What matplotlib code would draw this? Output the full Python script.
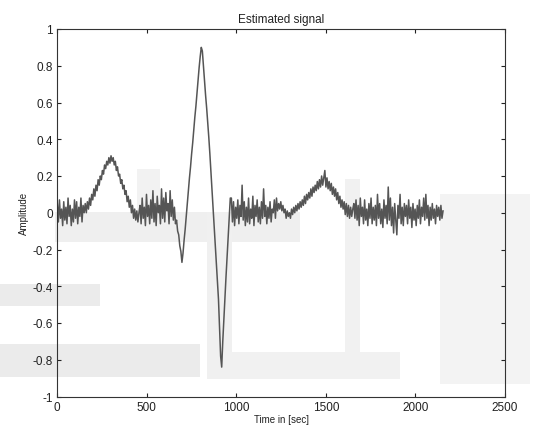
import numpy as np
import matplotlib
matplotlib.use("Agg")
import matplotlib.pyplot as plt
from matplotlib.patches import Rectangle

# ---- data (sample step of 6 time units) ----
step = 6
seg_a = [0.05, -0.05, 0.07, -0.03, 0.02, -0.07, 0.06, -0.04, 0.03, -0.06, 0.08, -0.02, 0.04,
         -0.07, 0.02, -0.05, 0.07, -0.03, 0.06, -0.06, 0.03, -0.02, 0.08, -0.05, 0.04, 0.0]
seg_b = [0.05, 0.0, 0.06, 0.02, 0.08, 0.04, 0.10, 0.07, 0.13, 0.09, 0.15, 0.12, 0.18, 0.15,
         0.20, 0.18, 0.23, 0.21, 0.26, 0.24, 0.28, 0.26, 0.30, 0.27, 0.31, 0.28]
seg_c = [0.30, 0.26, 0.28, 0.23, 0.25, 0.20, 0.21, 0.16, 0.18, 0.13, 0.15, 0.10, 0.12, 0.06,
         0.09, 0.03, 0.07, 0.0, 0.04, -0.03, 0.02, -0.04, 0.01, -0.05, 0.0]
seg_d = [0.04, -0.06, 0.08, -0.03, 0.03, -0.07, 0.10, -0.02, 0.04, -0.06, 0.07, -0.03, 0.12,
         -0.05, 0.05, -0.07, 0.09, 0.0, 0.04, -0.06, 0.13, -0.03, 0.08, -0.05, 0.11, 0.01, 0.05,
         -0.06, 0.12, -0.02, 0.07, -0.04, 0.03, -0.06]
seg_e = [-0.04, -0.10, -0.12, -0.18, -0.21, -0.27]
seg_f = [-0.22, -0.15, -0.09, -0.02, 0.05, 0.12, 0.19, 0.25, 0.32, 0.38, 0.45, 0.52, 0.58,
         0.65, 0.72, 0.79, 0.85, 0.90]
seg_g = [0.88, 0.80, 0.72, 0.64, 0.57, 0.49, 0.41, 0.32, 0.22, 0.12, 0.03, -0.07, -0.17,
         -0.27, -0.37, -0.47, -0.62, -0.78]
seg_h = [-0.84, -0.70, -0.58, -0.46, -0.35, -0.24, -0.12, -0.02, 0.08]
seg_i = [0.08, -0.05, 0.06, -0.07, 0.03, -0.03, 0.07, -0.06, 0.04, -0.02, 0.15, -0.04, 0.06,
         -0.07, 0.03, -0.05, 0.08, -0.06, 0.02, -0.03, 0.09, -0.07, 0.04, -0.02, 0.07, -0.05,
         0.03, -0.06, 0.06, -0.03, 0.13, -0.02, 0.04, -0.06, 0.03, -0.03, 0.06, -0.05, 0.02,
         0.0, 0.07, -0.03, 0.08, 0.01, 0.05]
seg_j = [0.02, 0.06, 0.01, 0.04, 0.0, 0.02, -0.03, 0.01, -0.02, 0.0, -0.03]
seg_k = [0.02, -0.01, 0.03, 0.0, 0.04, 0.01, 0.05, 0.02, 0.06, 0.03, 0.07, 0.04, 0.09, 0.05,
         0.10, 0.07, 0.11, 0.08, 0.13, 0.09, 0.14, 0.11, 0.15, 0.12, 0.17, 0.13, 0.18, 0.14,
         0.20, 0.15, 0.19]
seg_l = [0.23, 0.14, 0.19, 0.13, 0.17, 0.12, 0.16, 0.10, 0.14, 0.09, 0.13, 0.07, 0.11, 0.05,
         0.09, 0.03, 0.07, 0.02, 0.06, -0.01, 0.05, -0.02, 0.04, -0.03, 0.03, -0.02, 0.02]
seg_m = [0.05, -0.03, 0.07, -0.04, 0.04, -0.07, 0.08, -0.02, 0.03, -0.06,
         0.07, -0.04, 0.02, -0.07, 0.05, -0.03, 0.08, -0.06, 0.03, -0.04,
         0.04, -0.07, 0.10, -0.03, 0.05, -0.06, 0.02, -0.08, 0.07, -0.03,
         0.04, -0.06, 0.14, -0.04, 0.08, -0.07, 0.03, -0.11, 0.05, -0.04,
         -0.12, 0.04, -0.03, 0.10, -0.06, 0.03, -0.07, 0.05, -0.02, 0.04,
         -0.06, 0.07, -0.03, 0.03, -0.08, 0.05, -0.04, 0.02, -0.07, 0.04,
         -0.03, 0.07, -0.06, 0.03, -0.02, 0.08, -0.04, 0.10, -0.03, 0.04,
         -0.07, 0.03, -0.04, 0.05, -0.03, 0.02, -0.06, 0.04, -0.02, 0.03,
         -0.04, 0.04, -0.03, 0.01]

x_ticks = [0, 500, 1000, 1500, 2000, 2500]
y_ticks = [-1, -0.8, -0.6, -0.4, -0.2, 0, 0.2, 0.4, 0.6, 0.8, 1]
y_tick_labels = ["-1", "-0.8", "-0.6", "-0.4", "-0.2", "0", "0.2", "0.4", "0.6", "0.8", "1"]

signal = np.array(seg_a + seg_b + seg_c + seg_d + seg_e + seg_f + seg_g + seg_h +
                  seg_i + seg_j + seg_k + seg_l + seg_m)
t = np.arange(len(signal)) * step

# ---- figure ----
W, H = 547, 435
plt.rcParams['font.family'] = ['Liberation Sans', 'DejaVu Sans']
fig = plt.figure(figsize=(W / 100, H / 100), dpi=100)
fig.patch.set_facecolor('white')

ax = fig.add_axes([57.3 / W, 1 - 397.5 / H, (505 - 57.3) / W, (397.5 - 30) / H])
ax.set_facecolor('none')
ax.set_zorder(2)

# faint background watermark (pixel boxes: x0, y_top, w, h, grey)
wm = [(55, 213, 245, 30, '#efefef'), (0, 285, 100, 22, '#ebebeb'), (0, 345, 200, 33, '#ebebeb'),
      (207, 213, 25, 167, '#f0f0f0'), (230, 353, 170, 27, '#f1f1f1'), (345, 180, 15, 173, '#f1f1f1'),
      (440, 195, 90, 190, '#f3f3f3'), (137, 170, 23, 45, '#f2f2f2')]
for x0, yt, w, h, c in wm:
    fig.add_artist(Rectangle((x0 / W, 1 - (yt + h) / H), w / W, h / H,
                             transform=fig.transFigure, facecolor=c, edgecolor='none', zorder=-5))

ax.plot(t, signal, color='#555555', lw=1.1)

ax.set_xlim(0, 2500)
ax.set_ylim(-1, 1)
ax.set_xticks(x_ticks)
ax.set_yticks(y_ticks)
ax.set_yticklabels(y_tick_labels)
ax.tick_params(direction='in', length=3, width=0.8, top=True, right=True, labelsize=8.5,
               colors='#222222', pad=3)
for s in ax.spines.values():
    s.set_color('#333333')
    s.set_linewidth(0.8)
ax.set_title('Estimated signal', fontsize=8.5, color='#222222', pad=5)
ax.set_xlabel('Time in [sec]', fontsize=7, color='#222222', labelpad=1)
ax.set_ylabel('Amplitude', fontsize=7, color='#222222', labelpad=3)

fig.savefig('out.png', dpi=100)
